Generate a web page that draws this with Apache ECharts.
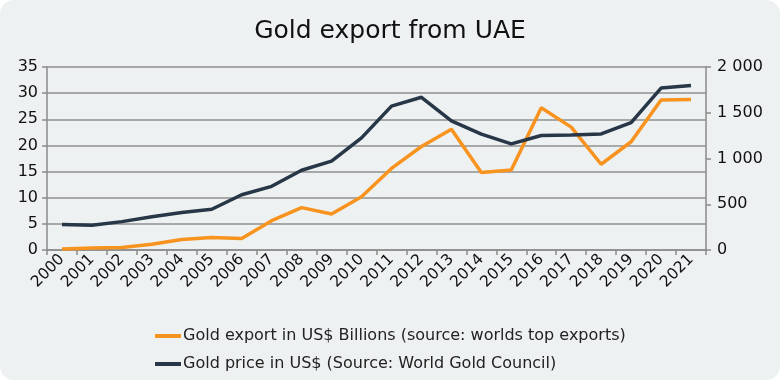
<!DOCTYPE html>
<html><head><meta charset="utf-8">
<script src="https://cdn.jsdelivr.net/npm/echarts@6/dist/echarts.min.js"></script>
<style>
html,body{margin:0;padding:0;background:#ffffff;}
#wrap{width:780px;height:380px;border-radius:14px;overflow:hidden;background:#edf1f2;}
#c{width:780px;height:380px;}
</style></head>
<body><div id="wrap"><div id="c"></div></div>
<script>
const years = ['2000','2001','2002','2003','2004','2005','2006','2007','2008','2009','2010','2011','2012','2013','2014','2015','2016','2017','2018','2019','2020','2021'];
const goldExport = [0.2,0.4,0.5,1.1,2.0,2.4,2.2,5.6,8.1,6.9,10.2,15.6,19.8,23.1,14.8,15.3,27.2,23.5,16.4,20.7,28.7,28.8];
const goldPrice = [279,271,310,363,409,445,604,696,872,972,1225,1572,1669,1411,1266,1160,1251,1257,1268,1393,1770,1799];
const leftTicks = {min:0,max:35,interval:5};
const rightTicks = {min:0,max:2000,interval:500};
const FONT = 'DejaVu Sans';
const chart = echarts.init(document.getElementById('c'));
chart.setOption({
  backgroundColor:'transparent',
  textStyle:{fontFamily:FONT},
  title:{text:'Gold export from UAE',left:'center',top:14,textStyle:{fontFamily:FONT,fontSize:25,fontWeight:500,color:'#111'}},
  grid:{left:47,right:74,top:67,bottom:130},
  legend:{orient:'vertical',left:150,top:323,itemWidth:26,itemHeight:4,itemGap:12,
    textStyle:{fontFamily:FONT,fontSize:16,color:'#222',padding:[0,0,0,-3]},
    data:[{name:'Gold export in US$ Billions (source: worlds top exports)',icon:'rect'},{name:'Gold price in US$ (Source: World Gold Council)',icon:'rect'}]},
  xAxis:{type:'category',data:years,boundaryGap:true,
    axisLine:{lineStyle:{color:'#8a8a8a',width:1.5}},
    axisTick:{show:true,length:5,lineStyle:{color:'#8a8a8a',width:1.5}},
    axisLabel:{rotate:45,fontSize:15.5,color:'#111',margin:7,interval:0}},
  yAxis:[
    {type:'value',min:leftTicks.min,max:leftTicks.max,interval:leftTicks.interval,
      axisLine:{show:true,lineStyle:{color:'#8a8a8a',width:1.5}},
      axisTick:{show:true,length:5,lineStyle:{color:'#8a8a8a',width:1.5}},
      splitLine:{lineStyle:{color:'#8f8f8f',width:1.5}},
      axisLabel:{fontSize:16,color:'#111',margin:9}},
    {type:'value',min:rightTicks.min,max:rightTicks.max,interval:rightTicks.interval,position:'right',
      axisLine:{show:true,lineStyle:{color:'#8a8a8a',width:1.5}},
      axisTick:{show:true,length:5,lineStyle:{color:'#8a8a8a',width:1.5}},
      splitLine:{show:false},
      axisLabel:{fontSize:16,color:'#111',margin:11,formatter:v=>v>=1000?String(v).replace(/(\d)(\d{3})$/,'$1 $2'):String(v)}}
  ],
  series:[
    {name:'Gold export in US$ Billions (source: worlds top exports)',type:'line',yAxisIndex:0,data:goldExport,
      symbol:'none',lineStyle:{color:'#f7931e',width:3.5},itemStyle:{color:'#f7931e'}},
    {name:'Gold price in US$ (Source: World Gold Council)',type:'line',yAxisIndex:1,data:goldPrice,
      symbol:'none',lineStyle:{color:'#273747',width:3.5},itemStyle:{color:'#273747'}}
  ]
});
</script></body></html>
